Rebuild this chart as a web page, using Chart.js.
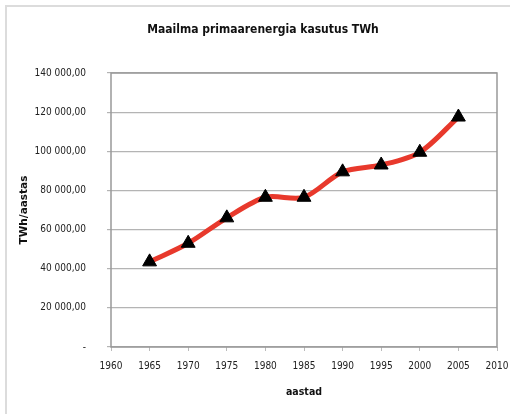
<!DOCTYPE html>
<html>
<head>
<meta charset="utf-8">
<script src="https://cdn.jsdelivr.net/npm/chart.js@4/dist/chart.umd.min.js"></script>
<style>
  html, body { margin: 0; padding: 0; background: #fff; }
  #wrap { width: 510px; height: 414px; position: relative; }
</style>
</head>
<body>
<div id="wrap"><canvas id="energyChart"></canvas></div>
<script>
// data
const years = [1965, 1970, 1975, 1980, 1985, 1990, 1995, 2000, 2005];
const consumption = [43500, 53000, 66000, 76500, 76500, 89500, 93000, 99500, 117500];
const xTicks = [1960, 1965, 1970, 1975, 1980, 1985, 1990, 1995, 2000, 2005, 2010];
const yTicks = [0, 20000, 40000, 60000, 80000, 100000, 120000, 140000];

const fontFamily = "'DejaVu Sans Condensed', 'DejaVu Sans', sans-serif";

// "140 000,00" style, zero shown as a dash
function fmt(v) {
    if (v === 0) return '-';
    return Math.round(v).toString().replace(/\B(?=(\d{3})+(?!\d))/g, ' ') + ',00';
}

// frame round the picture, box round the plot and the title
const decorations = {
    id: 'decorations',
    beforeDraw(chart) {
        const c = chart.ctx;
        c.save();
        c.strokeStyle = '#dcdcdc';
        c.lineWidth = 2;
        c.beginPath();
        c.moveTo(6, 414);
        c.lineTo(6, 6);
        c.lineTo(510, 6);
        c.stroke();
        c.restore();
    },
    afterDraw(chart) {
        const c = chart.ctx;
        const a = chart.chartArea;
        c.save();
        c.strokeStyle = '#999';
        c.lineWidth = 1.5;
        c.strokeRect(a.left, a.top, a.right - a.left, a.bottom - a.top);
        c.fillStyle = '#111';
        c.font = "bold 12px " + fontFamily;
        c.textAlign = 'center';
        c.textBaseline = 'middle';
        c.fillText('Maailma primaarenergia kasutus TWh', 263, 30);
        c.restore();
    }
};

const ctx = document.getElementById('energyChart').getContext('2d');

const energyChart = new Chart(ctx, {
    type: 'line',
    data: {
        datasets: [{
            label: 'TWh',
            data: years.map((y, i) => ({ x: y, y: consumption[i] })),
            borderColor: '#e8392c',
            borderWidth: 5,
            tension: 0.3,
            pointStyle: 'triangle',
            pointRadius: 8,
            pointHoverRadius: 8,
            pointBackgroundColor: '#000',
            pointBorderColor: '#000',
            pointBorderWidth: 1
        }]
    },
    plugins: [decorations],
    options: {
        responsive: true,
        maintainAspectRatio: false,
        animation: false,
        layout: {
            padding: { top: 73, right: 0, bottom: 13, left: 8 }
        },
        scales: {
            x: {
                type: 'linear',
                min: 1960,
                max: 2010,
                afterBuildTicks: axis => { axis.ticks = xTicks.map(v => ({ value: v })); },
                afterFit: axis => {
                    axis.height = 54;
                    axis.paddingRight = 13;
                },
                grid: {
                    display: true,
                    drawOnChartArea: false,
                    drawTicks: true,
                    tickLength: 4,
                    color: '#bbb'
                },
                border: { display: false },
                ticks: {
                    padding: 9,
                    maxRotation: 0,
                    color: '#222',
                    font: { family: fontFamily, size: 10 },
                    callback: v => String(v)
                },
                title: {
                    display: true,
                    text: 'aastad',
                    color: '#111',
                    font: { family: fontFamily, size: 10.5, weight: 'bold' },
                    padding: { top: 6, bottom: 2 }
                }
            },
            y: {
                min: 0,
                max: 140000,
                afterBuildTicks: axis => { axis.ticks = yTicks.map(v => ({ value: v })); },
                afterFit: axis => { axis.width = 103; },
                grid: {
                    color: '#b4b4b4',
                    lineWidth: 1.2,
                    tickLength: 4
                },
                border: { display: false },
                ticks: {
                    padding: 21,
                    color: '#222',
                    font: { family: fontFamily, size: 10 },
                    callback: v => fmt(v)
                },
                title: {
                    display: true,
                    text: 'TWh/aastas',
                    color: '#111',
                    font: { family: "'DejaVu Sans', sans-serif", size: 10.5, weight: 'bold' },
                    padding: { top: 10, bottom: 0 }
                }
            }
        },
        plugins: {
            legend: { display: false },
            tooltip: { enabled: false },
            title: { display: false }
        }
    }
});
</script>
</body>
</html>
